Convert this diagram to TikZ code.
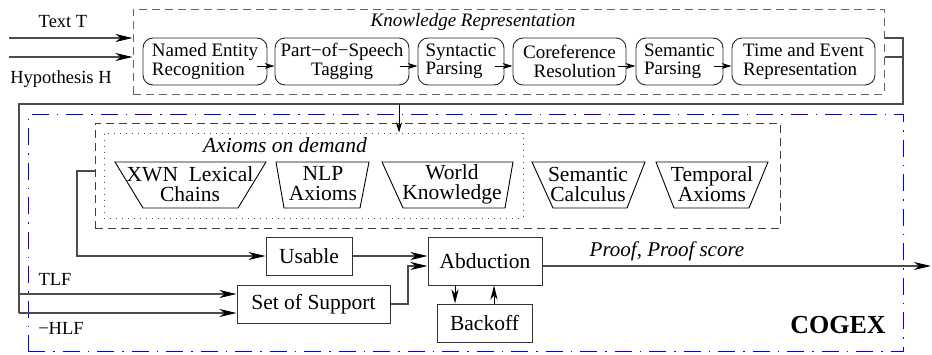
\documentclass[tikz,border=0pt]{standalone}
\usepackage{fontspec}
\IfFontExistsTF{LiberationSerif-Regular.ttf}{%
  \setmainfont{LiberationSerif}[Extension=.ttf, UprightFont=*-Regular, BoldFont=*-Bold, ItalicFont=*-Italic, BoldItalicFont=*-BoldItalic]}{%
  \setmainfont{Liberation Serif}}
\usetikzlibrary{arrows.meta,calc}
\begin{document}
\begin{tikzpicture}[x=1pt,y=-1pt,
  rbox/.style={draw=black!85, line width=0.9pt, rounded corners=10pt, inner sep=0pt,
    font=\rmfamily\fontsize{19}{18.5}\selectfont},
  sbox/.style={draw=black!80, line width=1pt, inner sep=0pt,
    font=\rmfamily\fontsize{21.5}{21}\selectfont},
  krbox/.style={draw=black!60, line width=1pt, dash pattern=on 8pt off 5pt, inner sep=0pt},
  dotbox/.style={draw=black!70, line width=1pt, dash pattern=on 1pt off 5pt, inner sep=0pt},
  cogexbox/.style={draw=blue, line width=1pt, dash pattern=on 17pt off 8pt on 1.5pt off 8pt, inner sep=0pt},
  trap/.style={draw=black, line width=0.9pt},
  traptext/.style={inner sep=0pt, align=center, font=\rmfamily\fontsize{21.5}{20}\selectfont},
  lbl/.style={inner sep=0pt, font=\rmfamily\fontsize{18.5}{18.5}\selectfont},
  bus/.style={draw=black!70, line width=1.1pt},
  inarr/.style={draw=black!70, line width=1.1pt, -{Stealth[length=17pt,width=8pt,inset=5pt,black]}},
  marr/.style={draw=black, line width=0.9pt, -{Stealth[length=14pt,width=7pt,inset=4pt]}},
  sarr/.style={draw=black, line width=0.9pt, -{Stealth[length=10pt,width=6pt,inset=3pt]}}
]
\useasboundingbox (0,0) rectangle (932,354);

% COGEX frame
\node[cogexbox, minimum width=875pt, minimum height=237pt] (cogex) at (465.5,232.5) {};
\node[inner sep=0pt, font=\rmfamily\fontsize{26}{26}\selectfont\bfseries] (cogexlbl) at (838,325) {COGEX};

% Knowledge representation
\node[krbox, minimum width=751pt, minimum height=85pt] (kr) at (508.5,51.5) {};
\node[inner sep=0pt, font=\rmfamily\fontsize{19}{19}\selectfont\itshape] (krlbl) at (473,22) {Knowledge Representation};

\node[rbox, minimum width=124pt, minimum height=47pt, align=left] (ner) at (205,61.5) {Named Entity\\Recognition};
\node[rbox, minimum width=134pt, minimum height=47pt, align=center] (pos) at (342,61.5) {Part−of−Speech\\Tagging};
\node[rbox, minimum width=86pt, minimum height=47pt, align=left] (syn) at (461,61.5) {Syntactic\\Parsing};
\node[rbox, minimum width=113pt, minimum height=47pt, align=right] (coref) at (569.5,61.5) {Coreference\\Resolution};
\node[rbox, minimum width=87pt, minimum height=47pt, align=left] (sem) at (679.5,61.5) {Semantic\\Parsing};
\node[rbox, minimum width=143pt, minimum height=47pt, align=left] (time) at (803.5,61.5) {Time and Event\\Representation};

\draw[sarr] ($(pos.west)+(-18,4.5)$) -- ($(pos.west)+(0,4.5)$);
\draw[sarr] ($(syn.west)+(-18,4.5)$) -- ($(syn.west)+(0,4.5)$);
\draw[sarr] ($(coref.west)+(-18,4.5)$) -- ($(coref.west)+(0,4.5)$);
\draw[sarr] ($(sem.west)+(-18,4.5)$) -- ($(sem.west)+(0,4.5)$);
\draw[sarr] ($(time.west)+(-18,4.5)$) -- ($(time.west)+(0,4.5)$);

% inputs
\coordinate (tT) at (9,38);
\coordinate (tH) at (9,57);
\draw[inarr] (tT) -- (tT -| kr.west);
\draw[inarr] (tH) -- (tH -| kr.west);
\node[lbl] (textT) at (63,22) {Text T};
\node[lbl] (hypH) at (61,79) {Hypothesis H};

% axioms
\node[krbox, draw=black!75, minimum width=685pt, minimum height=105pt] (ax) at (437.5,175.5) {};
\node[dotbox, minimum width=419pt, minimum height=85pt] (dot) at (313.5,175.5) {};
\node[inner sep=0pt, font=\rmfamily\fontsize{21.5}{21.5}\selectfont\itshape] (axlbl) at (285,145) {Axioms on demand};

\draw[trap] (115,162) -- (266,162) -- (238,208) -- (143,208) -- cycle;
\node[traptext] (xwn) at (190,184) {XWN\ \ Lexical\\Chains};
\draw[trap] (276,162) -- (369,162) -- (360,208) -- (284,208) -- cycle;
\node[traptext] (nlp) at (323,184) {NLP\\Axioms};
\draw[trap] (382,162) -- (513,162) -- (505,208) -- (403,208) -- cycle;
\node[traptext] (world) at (452,184) {World\\Knowledge};
\draw[trap] (532,162) -- (645,162) -- (627,208) -- (553,208) -- cycle;
\node[traptext] (semcal) at (588,184) {Semantic\\Calculus};
\draw[trap] (656,162) -- (768,162) -- (749,208) -- (674,208) -- cycle;
\node[traptext] (temp) at (712,184) {Temporal\\Axioms};

% output bus
\coordinate (o1) at (903,38);
\coordinate (o1b) at (903,57);
\coordinate (o2) at (903,104);
\coordinate (o3) at (19,104);
\coordinate (o4) at (19,313);
\coordinate (tlf) at (19,294);
\coordinate (tap) at (399,104);
\draw[bus] (o1 -| kr.east) -- (o1) -- (o2) -- (o3) -- (o4);
\draw[bus] (o1b -| kr.east) -- (o1b);
\draw[sarr] (tap) -- (tap |- dot.north);

% lower boxes
\node[sbox, minimum width=86pt, minimum height=38pt] (usable) at (309,256) {Usable};
\node[sbox, minimum width=153pt, minimum height=38pt] (sos) at (313.5,304) {Set of Support};
\node[sbox, minimum width=114pt, minimum height=48pt] (abd) at (485,261) {Abduction};
\node[sbox, minimum width=95pt, minimum height=38pt] (back) at (484.5,323) {Backoff};

\draw[inarr] (tlf) -- (tlf -| sos.west);
\draw[inarr] (o4) -- (o4 -| sos.west);
\node[lbl] (tlflbl) at (55,279) {TLF};
\node[lbl] (hlflbl) at (61,328) {−HLF};

\coordinate (ab1) at (77,171);
\coordinate (ab2) at (77,256);
\draw[inarr] (ab1 -| ax.west) -- (ab1) -- (ab2) -- (usable.west);
\draw[inarr] (usable.east) -- (usable.east -| abd.west);
\coordinate (sj) at (408,266);
\draw[inarr] (sos.east) -| (sj) -- (sj -| abd.west);

\coordinate (d1) at (455,0);
\coordinate (d2) at (494,0);
\draw[marr] (d1 |- abd.south) -- (d1 |- back.north);
\draw[marr] (d2 |- back.north) -- (d2 |- abd.south);

\coordinate (pe) at (931,266);
\draw[inarr] (pe -| abd.east) -- (pe);
\node[inner sep=0pt, font=\rmfamily\fontsize{21}{21}\selectfont\itshape] (prooflbl) at (667,251) {Proof, Proof score};
\end{tikzpicture}
\end{document}
